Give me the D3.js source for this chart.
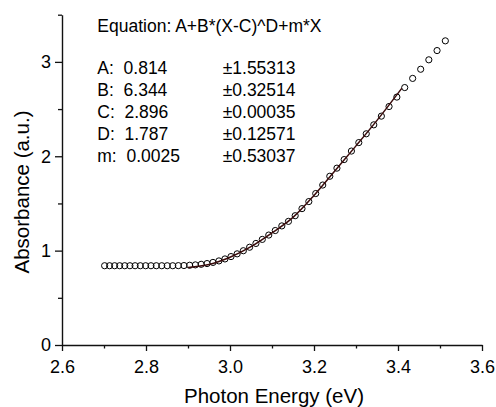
<!DOCTYPE html>
<html>
<head>
<meta charset="utf-8">
<script src="https://cdn.jsdelivr.net/npm/d3@7"></script>
<style>
  html, body { margin: 0; padding: 0; background: #fff; }
  svg { display: block; }
  text { font-family: "Liberation Sans", Arial, sans-serif; fill: #000; }
</style>
</head>
<body>
<svg id="chart" width="496" height="407"></svg>
<script>
// ---- data ----
const energy = [2.7015, 2.7133, 2.7253, 2.7373, 2.7494, 2.7617, 2.7740, 2.7865, 2.7991, 2.8118,
  2.8246, 2.8375, 2.8506, 2.8637, 2.8770, 2.8904, 2.9040, 2.9176, 2.9314, 2.9454,
  2.9594, 2.9736, 2.9880, 3.0024, 3.0170, 3.0318, 3.0467, 3.0617, 3.0769, 3.0923,
  3.1078, 3.1234, 3.1392, 3.1552, 3.1714, 3.1877, 3.2041, 3.2208, 3.2376, 3.2546,
  3.2718, 3.2891, 3.3067, 3.3244, 3.3423, 3.3604, 3.3787, 3.3973, 3.4160, 3.4349,
  3.4540, 3.4734, 3.4930, 3.5127];
const absorbance = [0.840, 0.840, 0.840, 0.840, 0.840, 0.840, 0.840, 0.840, 0.840, 0.840,
  0.840, 0.840, 0.840, 0.840, 0.841, 0.842, 0.845, 0.849, 0.855, 0.863,
  0.875, 0.891, 0.912, 0.937, 0.966, 0.999, 1.036, 1.076, 1.119, 1.165,
  1.213, 1.262, 1.310, 1.370, 1.445, 1.520, 1.605, 1.695, 1.788, 1.874,
  1.965, 2.055, 2.145, 2.238, 2.333, 2.425, 2.527, 2.627, 2.728, 2.825,
  2.922, 3.022, 3.120, 3.223];
const fitX = [2.90, 2.95, 3.00, 3.05, 3.10, 3.15, 3.20, 3.25, 3.30, 3.35, 3.409];
const fitY = [0.821, 0.853, 0.930, 1.042, 1.188, 1.352, 1.585, 1.847, 2.110, 2.380, 2.720];
const xTicks = [2.6, 2.8, 3.0, 3.2, 3.4, 3.6];
const xMinor = [2.7, 2.9, 3.1, 3.3, 3.5];
const yTicks = [0, 1, 2, 3];
const yMinor = [0.5, 1.5, 2.5, 3.5];
const equation = "Equation: A+B*(X-C)^D+m*X";
const paramNames = ["A:", "B:", "C:", "D:", "m:"];
const paramValues = ["0.814", "6.344", "2.896", "1.787", "0.0025"];
const paramErrors = ["\u00b11.55313", "\u00b10.32514", "\u00b10.00035", "\u00b10.12571", "\u00b10.53037"];

// ---- layout ----
const svg = d3.select("#chart");
const margin = { left: 62, right: 14, top: 14.7, bottom: 62 };
const W = 496, H = 407;
const x = d3.scaleLinear().domain([2.6, 3.6]).range([margin.left, W - margin.right]);
const y = d3.scaleLinear().domain([0, 3.5]).range([H - margin.bottom, margin.top]);
const axisColor = "#111";

// x axis
const gx = svg.append("g").attr("transform", `translate(0,${y(0)})`);
gx.call(d3.axisBottom(x).tickValues(xTicks).tickFormat(d3.format(".1f")).tickSize(6).tickPadding(5).tickSizeOuter(0));
gx.append("g").call(d3.axisBottom(x).tickValues(xMinor).tickFormat("").tickSize(3.5).tickSizeOuter(0))
  .select(".domain").remove();

// y axis
const gy = svg.append("g").attr("transform", `translate(${x(2.6)},0)`);
gy.call(d3.axisLeft(y).tickValues(yTicks).tickFormat(d3.format("d")).tickSize(7).tickPadding(4).tickSizeOuter(0));
gy.append("g").call(d3.axisLeft(y).tickValues(yMinor).tickFormat("").tickSize(4).tickSizeOuter(0))
  .select(".domain").remove();

svg.selectAll(".domain").attr("stroke", axisColor).attr("stroke-width", 1.4);
svg.selectAll(".tick line").attr("stroke", axisColor).attr("stroke-width", 1.3);
svg.selectAll(".tick text").attr("font-size", 18).attr("font-family", "Liberation Sans, Arial, sans-serif").attr("fill", "#000");
gx.selectAll(".tick text").attr("dy", "0.95em");

// axis titles
svg.append("text").attr("x", (x(2.6) + x(3.6)) / 2 + 2).attr("y", 403)
  .attr("text-anchor", "middle").attr("font-size", 20.5).text("Photon Energy (eV)");
svg.append("text").attr("transform", `translate(28.5,${192}) rotate(-90)`)
  .attr("text-anchor", "middle").attr("font-size", 20.5).text("Absorbance (a.u.)");

// data points
const pts = energy.map((e, i) => ({ e, a: absorbance[i] }));
svg.append("g").selectAll("circle").data(pts).join("circle")
  .attr("cx", d => x(d.e)).attr("cy", d => y(d.a)).attr("r", 3.1)
  .attr("fill", "none").attr("stroke", "#000").attr("stroke-width", 1);

// fit line
const fit = fitX.map((v, i) => ({ e: v, a: fitY[i] }));
svg.append("path").datum(fit)
  .attr("d", d3.line().x(d => x(d.e)).y(d => y(d.a)).curve(d3.curveMonotoneX))
  .attr("fill", "none").attr("stroke", "#3a0c0c").attr("stroke-width", 1.5);

// equation box text
const tx = 97.3, ty = 32.3, rowH = 21.9;
svg.append("text").attr("x", tx).attr("y", ty).attr("font-size", 17.5).text(equation);
const rows = svg.append("g");
paramNames.forEach((n, i) => {
  rows.append("text").attr("x", tx).attr("y", 74 + i * rowH).attr("font-size", 17.5)
    .attr("xml:space", "preserve").style("white-space", "pre").text(n + "  " + paramValues[i]);
  rows.append("text").attr("x", 222.7).attr("y", 74 + i * rowH).attr("font-size", 17.5)
    .text(paramErrors[i]);
});
</script>
</body>
</html>
